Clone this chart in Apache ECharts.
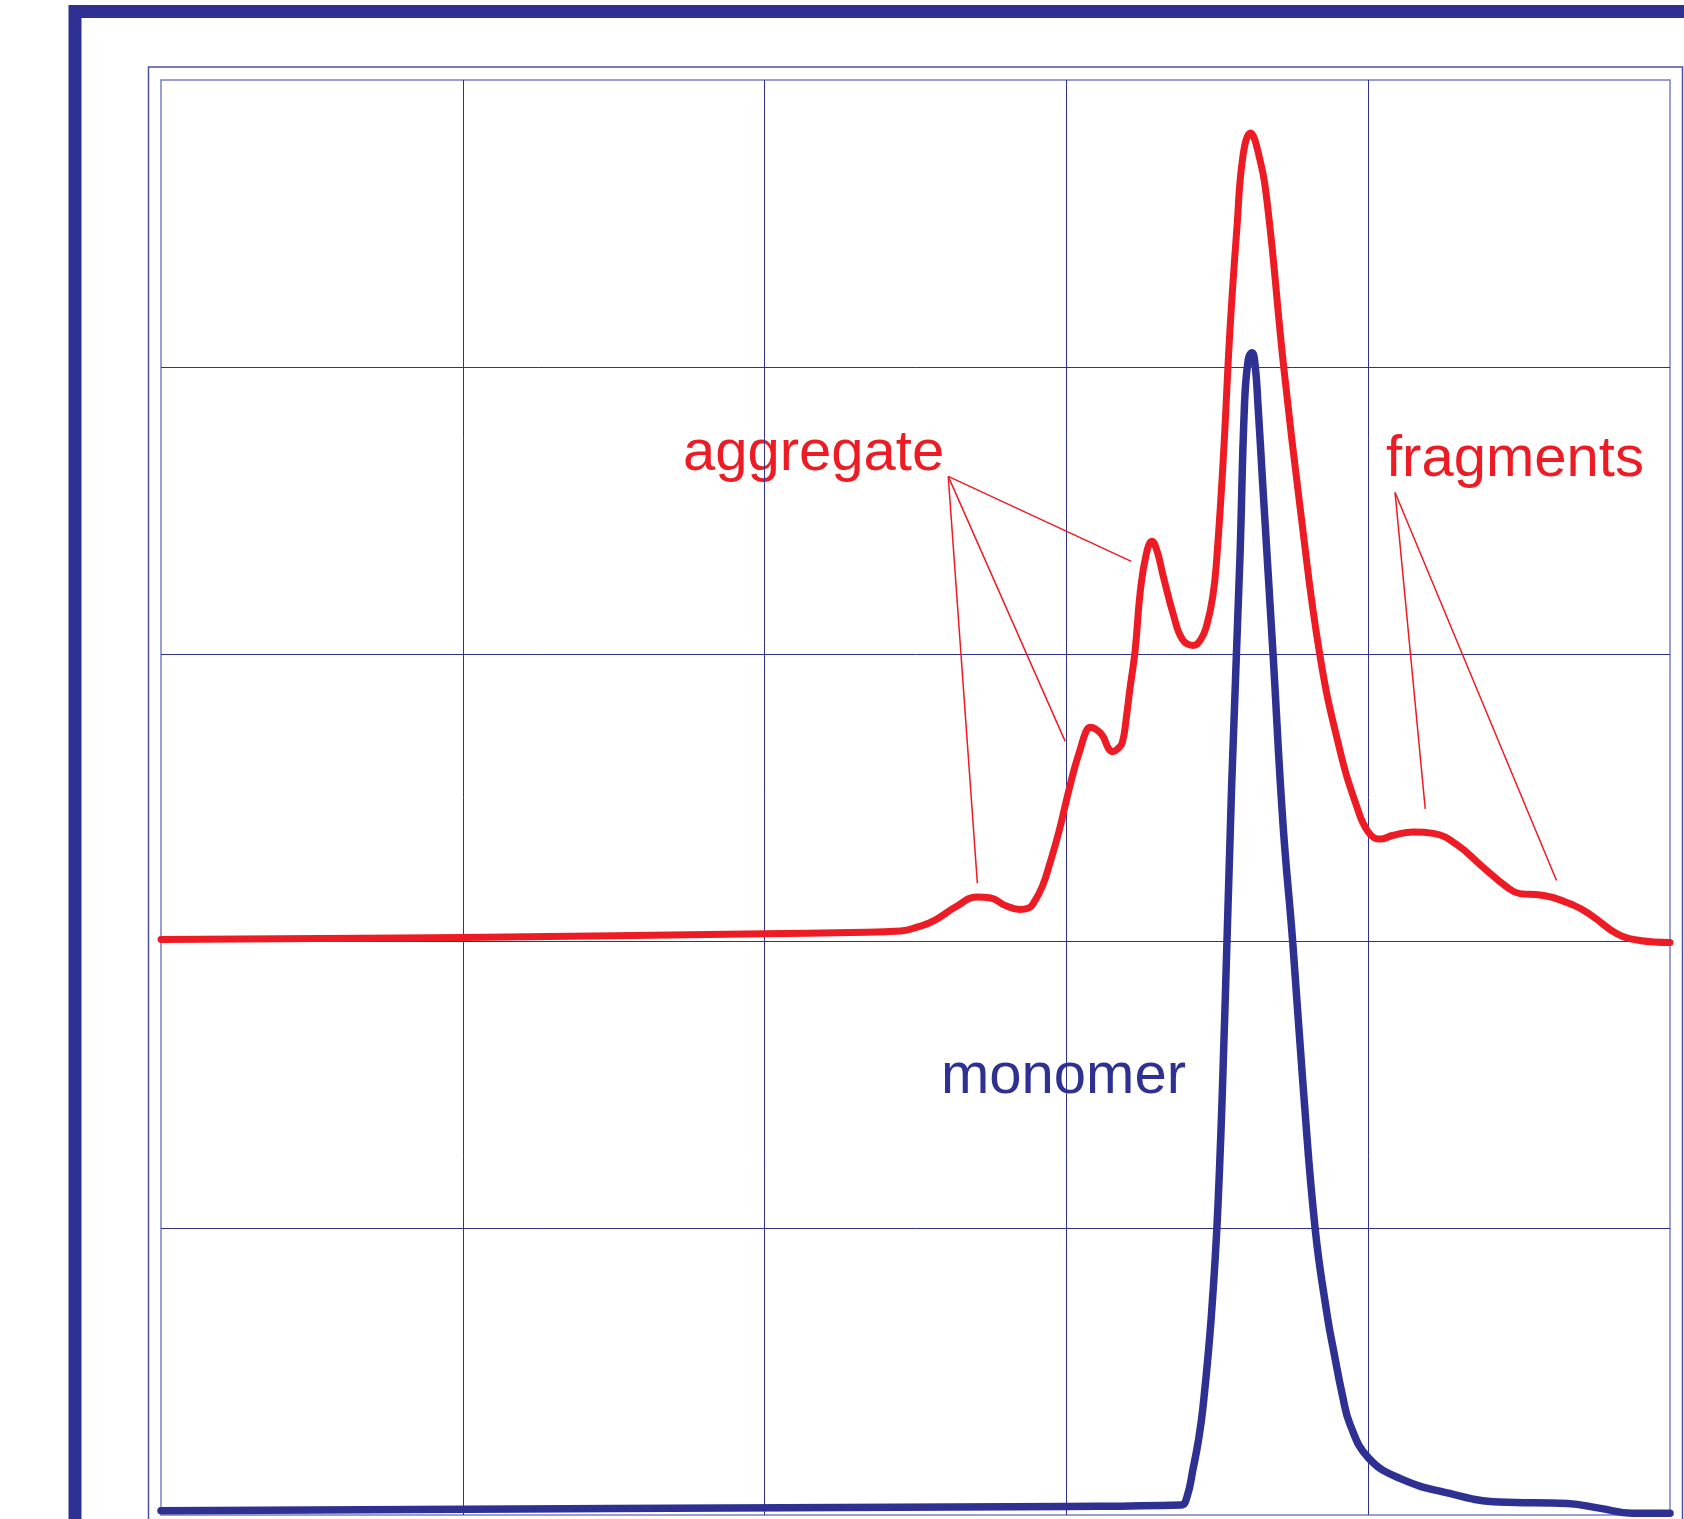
<!DOCTYPE html>
<html>
<head>
<meta charset="utf-8">
<title>SEC chromatogram</title>
<script src="https://cdn.jsdelivr.net/npm/echarts@6/dist/echarts.min.js"></script>
<style>
  html, body { margin: 0; padding: 0; background: #ffffff; }
  #chart { width: 1684px; height: 1519px; }
</style>
</head>
<body>
<div id="chart"></div>
<script>
// stressed sample (red) - retention vs signal
const stressedX = [0, 20, 40, 45.7, 49.0, 50.2, 51.2, 52.7, 54.05, 55.0, 55.9, 56.9, 57.5, 57.8, 58.4, 58.9, 59.5, 60.0, 60.5, 60.9, 61.3, 61.56, 61.9, 62.4, 62.8, 63.1, 63.4, 63.7, 64.0, 64.2, 64.55, 64.9, 65.3, 65.67, 66.0, 66.4, 67.1, 67.7, 68.4, 68.9, 69.3, 69.7, 69.96, 70.4, 70.84, 71.3, 71.7, 72.2, 72.7, 73.3, 74.4, 75.5, 76.8, 78.1, 79.2, 80.0, 80.8, 81.6, 83.0, 84.3, 85.9, 87.6, 89.2, 90.05, 91.4, 93.6, 94.9, 96.5, 98.0, 100]
const stressedY = [40.1, 40.25, 40.5, 40.6, 40.7, 41.0, 41.4, 42.4, 43.06, 43.0, 42.5, 42.2, 42.3, 42.6, 43.8, 45.4, 47.6, 49.8, 51.9, 53.3, 54.6, 54.9, 54.8, 54.3, 53.4, 53.2, 53.4, 53.8, 55.8, 57.5, 60.2, 64.4, 67.0, 67.85, 67.2, 65.5, 62.7, 61.0, 60.6, 61.0, 62.0, 64.0, 66.6, 73.7, 82.6, 89.7, 94.7, 96.3, 95.0, 91.5, 80.0, 70.1, 59.9, 53.4, 49.5, 47.6, 47.1, 47.35, 47.6, 47.5, 46.7, 45.15, 43.75, 43.3, 43.2, 42.5, 41.7, 40.5, 40.04, 39.9]

// reference sample (blue)
const monomerX = [0, 30, 60, 67.6, 68.0, 68.4, 68.75, 69.05, 69.6, 70.05, 70.5, 70.95, 71.5, 71.8, 72.05, 72.3, 72.5, 72.7, 73.0, 73.7, 74.35, 75.0, 75.7, 76.5, 77.3, 77.7, 78.3, 78.8, 80.0, 82.1, 85.4, 88.7, 93.2, 95.4, 97.5, 100]
const monomerY = [0.3, 0.45, 0.6, 0.7, 1.3, 3.25, 5.2, 7.5, 13.8, 21.7, 35.0, 50.8, 66.7, 77.3, 80.5, 81.0, 80.2, 77.3, 72.0, 59.9, 48.2, 39.9, 29.7, 19.8, 13.8, 11.5, 8.3, 6.3, 4.0, 2.55, 1.5, 0.9, 0.8, 0.46, 0.13, 0.13]

// pointer lines: [from, to] in data units
const aggregatePointers = [
  [[52.17, 72.38], [54.1, 44.03]],
  [[52.17, 72.38], [59.92, 53.91]],
  [[52.17, 72.38], [64.3, 66.45]]
]
const fragmentPointers = [
  [[81.78, 71.26], [83.78, 49.21]],
  [[81.78, 71.26], [92.48, 44.22]]
]

const RED = '#ED1C24'
const BLUE = '#2E3192'
const FONT = '"Liberation Sans", Arial, sans-serif'

function zip (xs, ys) {
  return xs.map((x, i) => [x, ys[i]])
}

function pointerLines (list) {
  return list.map(p => [{ coord: p[0] }, { coord: p[1] }])
}

function drawChart () {
  const chart = echarts.init(document.getElementById('chart'), null, { renderer: 'canvas' })
  const axisCommon = {
    type: 'value',
    min: 0,
    max: 100,
    interval: 20,
    axisLine: { show: false },
    axisTick: { show: false },
    axisLabel: { show: false },
    splitLine: {
      show: true,
      showMinLine: false,
      showMaxLine: false,
      lineStyle: { color: BLUE, width: 1 }
    }
  }
  const option = {
    animation: false,
    backgroundColor: '#ffffff',
    grid: {
      left: 161,
      top: 80,
      width: 1509,
      height: 1435,
      show: true,
      borderColor: '#7c7dc4',
      borderWidth: 1.5,
      backgroundColor: 'transparent'
    },
    xAxis: axisCommon,
    yAxis: axisCommon,
    graphic: [
      // heavy outer frame
      {
        type: 'rect',
        shape: { x: 75, y: 11.5, width: 1700, height: 1600 },
        style: { fill: 'none', stroke: BLUE, lineWidth: 13 },
        silent: true
      },
      // thin plot frame
      {
        type: 'rect',
        shape: { x: 148.5, y: 67, width: 1534, height: 1600 },
        style: { fill: 'none', stroke: '#4d50a8', lineWidth: 1.5 },
        silent: true
      },
      {
        type: 'text',
        style: { text: 'aggregate', x: 683, y: 454, textVerticalAlign: 'middle', font: '58px ' + FONT, fill: RED },
        silent: true
      },
      {
        type: 'text',
        style: { text: 'fragments', x: 1386, y: 460, textVerticalAlign: 'middle', font: '58px ' + FONT, fill: RED },
        silent: true
      },
      {
        type: 'text',
        style: { text: 'monomer', x: 941, y: 1077, textVerticalAlign: 'middle', font: '58px ' + FONT, fill: BLUE },
        silent: true
      }
    ],
    series: [
      {
        name: 'stressed',
        type: 'line',
        data: zip(stressedX, stressedY),
        smooth: 0.45,
        showSymbol: false,
        symbol: 'none',
        lineStyle: { color: RED, width: 7, cap: 'round', join: 'round' },
        z: 3,
        markLine: {
          silent: true,
          symbol: ['none', 'none'],
          label: { show: false },
          lineStyle: { color: RED, width: 1.5, type: 'solid' },
          data: pointerLines(aggregatePointers).concat(pointerLines(fragmentPointers))
        }
      },
      {
        name: 'monomer',
        type: 'line',
        data: zip(monomerX, monomerY),
        smooth: 0.45,
        showSymbol: false,
        symbol: 'none',
        lineStyle: { color: BLUE, width: 7.5, cap: 'round', join: 'round' },
        z: 4
      }
    ]
  }
  chart.setOption(option)
}

drawChart()
</script>
</body>
</html>
